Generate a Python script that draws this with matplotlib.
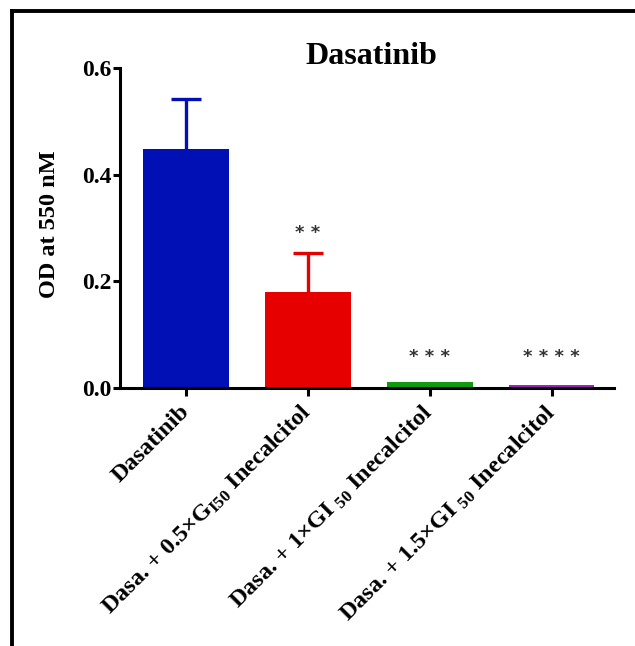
import matplotlib
matplotlib.use("Agg")
import matplotlib.pyplot as plt
from matplotlib.lines import Line2D

plt.rcParams['font.family'] = ['Liberation Serif', 'DejaVu Serif']
plt.rcParams['font.weight'] = 'bold'
plt.rcParams['mathtext.fontset'] = 'custom'
plt.rcParams['mathtext.rm'] = 'Liberation Serif:bold'
plt.rcParams['mathtext.it'] = 'Liberation Serif:bold'
plt.rcParams['mathtext.bf'] = 'Liberation Serif:bold'

# data
groups = ['Dasatinib',
          r'Dasa. + 0.5×G$_{\mathrm{I50}}$ Inecalcitol',
          r'Dasa. + 1×GI $_{\mathrm{50}}$ Inecalcitol',
          r'Dasa. + 1.5×GI $_{\mathrm{50}}$ Inecalcitol']
od_mean = [0.448, 0.180, 0.011, 0.005]
od_err = [0.093, 0.073, 0.0, 0.0]
stars = ['', '* *', '* * *', '* * * *']
colors = ['#0010b4', '#e60000', '#109a10', '#a020c0']

W, H = 635, 646
fig = plt.figure(figsize=(W / 100, H / 100), dpi=100)
ax = fig.add_axes([120 / W, 1 - 388 / H, (614 - 120) / W, (388 - 68) / H])

x = list(range(len(groups)))
ax.bar(x, od_mean, width=0.7, color=colors, zorder=2)
for i in x:
    if od_err[i] > 0:
        eb = ax.errorbar(i, od_mean[i], yerr=[[0], [od_err[i]]],
                         color=colors[i], elinewidth=2.4, capsize=11,
                         capthick=2.4, zorder=1)
        eb[1][0].set_visible(False)  # no cap at the bar top
    if stars[i]:
        ys = max(od_mean[i] + od_err[i] + 0.038, 0.058)
        ax.text(i, ys, stars[i], ha='center', va='center', fontsize=13,
                color='#333333', family='DejaVu Sans')

ax.set_xlim(-0.54, 3.51)
ax.set_ylim(0, 0.6)
ax.set_yticks([0.0, 0.2, 0.4, 0.6])
ax.set_yticklabels(['0.0', '0.2', '0.4', '0.6'])
ax.set_xticks(x)
ax.set_xticklabels(groups, rotation=45, ha='right', va='center',
                   rotation_mode='anchor', fontsize=17.5)
ax.tick_params(axis='y', labelsize=17, width=2.2, length=5, pad=1)
ax.tick_params(axis='x', width=2.2, length=6, pad=9)
for s in ['top', 'right']:
    ax.spines[s].set_visible(False)
for s in ['left', 'bottom']:
    ax.spines[s].set_linewidth(2.2)

fig.text(50 / W, 1 - 224 / H, 'OD at 550 nM', rotation=90, ha='center',
         va='center', fontsize=17.5)
fig.text(371 / W, 1 - 56 / H, 'Dasatinib', ha='center', va='center',
         fontsize=23)

# outer frame (top and left only)
fig.add_artist(Line2D([12 / W, 1], [1 - 11 / H, 1 - 11 / H], color='black',
                      lw=2.8, transform=fig.transFigure))
fig.add_artist(Line2D([12 / W, 12 / W], [0, 1 - 11 / H], color='black',
                      lw=2.8, transform=fig.transFigure))

fig.savefig('out.png', dpi=100)
